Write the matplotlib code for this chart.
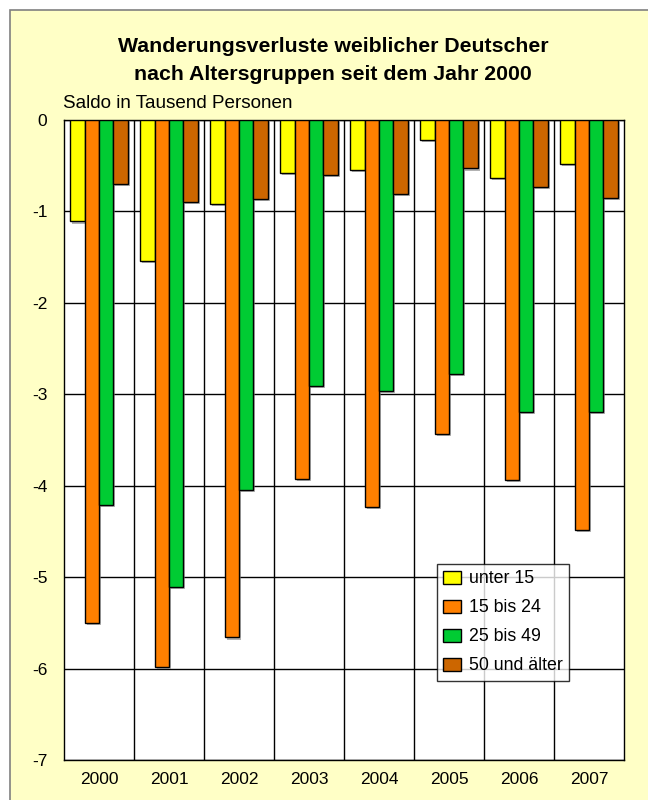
import matplotlib
matplotlib.use("Agg")
import matplotlib.pyplot as plt
import matplotlib.patheffects as pe
from matplotlib.patches import Rectangle
import numpy as np

plt.rcParams['font.family'] = ['Liberation Sans', 'DejaVu Sans']

years = ["2000", "2001", "2002", "2003", "2004", "2005", "2006", "2007"]
series_names = ["unter 15", "15 bis 24", "25 bis 49", "50 und älter"]
unter_15 = [-1.11, -1.54, -0.92, -0.58, -0.55, -0.22, -0.63, -0.48]
bis_24 = [-5.50, -5.98, -5.66, -3.93, -4.23, -3.43, -3.94, -4.48]
bis_49 = [-4.21, -5.11, -4.05, -2.91, -2.96, -2.78, -3.19, -3.19]
ueber_50 = [-0.70, -0.90, -0.86, -0.60, -0.81, -0.53, -0.73, -0.85]
y_ticks = [0, -1, -2, -3, -4, -5, -6, -7]

colors = ["#FFFF00", "#FF8000", "#00CC33", "#CC6600"]
bg = "#FFFFC6"

fig = plt.figure(figsize=(6.48, 8.0), dpi=100)
fig.patch.set_facecolor("white")

# outer framed area, kept behind the axes
frame = Rectangle((10 / 648, -0.01), 1.0, 1 - 10 / 800 + 0.01, transform=fig.transFigure,
                  facecolor=bg, edgecolor="#808080", linewidth=1.2, zorder=-5)
fig.patches.append(frame)

ax = fig.add_axes([64 / 648, 40 / 800, 560 / 648, 640 / 800])
ax.set_facecolor("white")

x = np.arange(len(years))
w = 0.205
shadow = [pe.SimplePatchShadow(offset=(1.5, -1.5), shadow_rgbFace="#808080", alpha=0.6),
          pe.Normal()]
for i, (vals, c, name) in enumerate(zip([unter_15, bis_24, bis_49, ueber_50], colors, series_names)):
    bars = ax.bar(x + (i - 1.5) * w, vals, width=w, color=c, edgecolor="black",
                  linewidth=1.0, label=name, zorder=3)
    for b in bars:
        b.set_path_effects(shadow)

ax.set_xlim(-0.5, len(years) - 0.5)
ax.set_ylim(-7, 0)
ax.set_yticks(y_ticks)
ax.set_yticklabels([str(v) for v in y_ticks])
ax.set_xticks(x)
ax.set_xticklabels(years)
ax.tick_params(axis="both", length=0, labelsize=12.5)
ax.tick_params(axis="y", pad=12)
ax.tick_params(axis="x", pad=9)

for v in y_ticks:
    ax.axhline(v, color="black", linewidth=1.0, zorder=1)
for k in range(len(years) - 1):
    ax.axvline(k + 0.5, color="black", linewidth=1.0, zorder=1)
for s in ax.spines.values():
    s.set_color("black")
    s.set_linewidth(1.0)

fig.text(333 / 648, 1 - 47 / 800, "Wanderungsverluste weiblicher Deutscher",
         ha="center", va="center", fontsize=15.3, fontweight="bold")
fig.text(333 / 648, 1 - 75 / 800, "nach Altersgruppen seit dem Jahr 2000",
         ha="center", va="center", fontsize=15.3, fontweight="bold")
fig.text(63 / 648, 1 - 103 / 800, "Saldo in Tausend Personen",
         ha="left", va="center", fontsize=13.6)

leg = ax.legend(loc="upper left", bbox_to_anchor=(437 / 648, 1 - 564 / 800),
                bbox_transform=fig.transFigure, frameon=True, fancybox=False,
                edgecolor="black", fontsize=12.8, handlelength=1.0, handleheight=0.75,
                handletextpad=0.45, labelspacing=0.68, borderpad=0.35, borderaxespad=0)
leg.get_frame().set_linewidth(1.0)
for h in leg.legend_handles:
    h.set_path_effects([])

fig.savefig("out.png", dpi=100, facecolor=fig.get_facecolor())
